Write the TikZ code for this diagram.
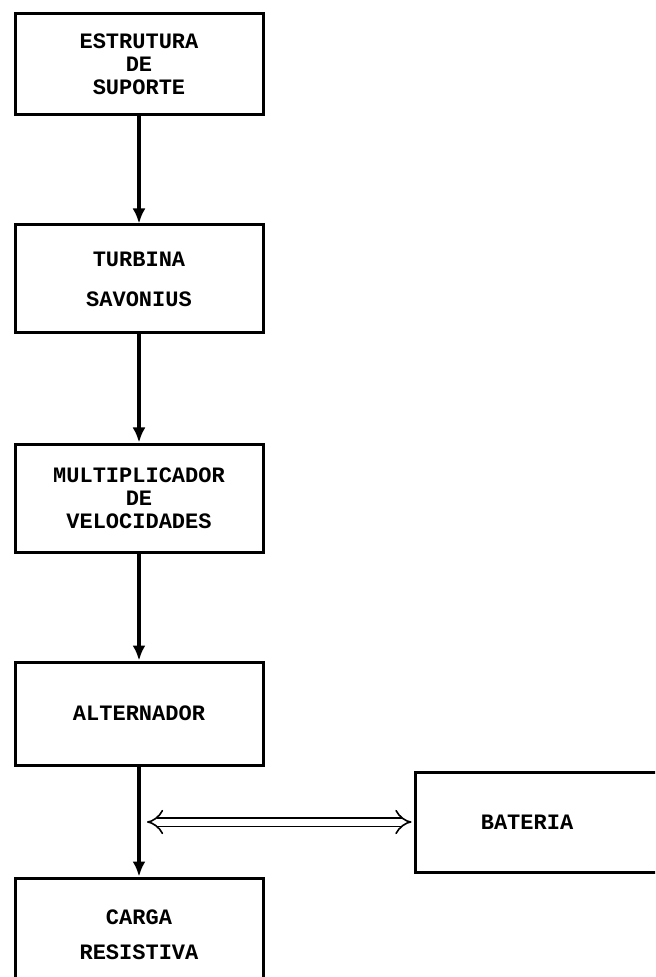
\documentclass[tikz,border=0pt]{standalone}
\usepackage{fontspec}
\setmonofont{Liberation Mono}
\usepackage{tikz}
\usetikzlibrary{arrows.meta}

\begin{document}
\begin{tikzpicture}[x=0.5pt,y=-0.5pt,>=Latex,
  blk/.style={draw,line width=1.5pt,minimum width=124pt,inner sep=0pt,align=center,
    font=\ttfamily\bfseries\fontsize{11}{13}\selectfont},
  flow/.style={line width=2pt,-{Latex[length=7.5pt,width=6.5pt]}},
  dbl/.style={{Implies}-{Implies},double,double distance=3.5pt,line width=0.8pt}]
  \clip (0,0) rectangle (655,977);
  \node[blk,minimum height=50.5pt] (sup) at (139,64) {ESTRUTURA\\[-1.5pt]DE\\[-1.5pt]SUPORTE};
  \node[blk,minimum height=54pt] (turb) at (139,279) {TURBINA\\[7pt]SAVONIUS};
  \node[blk,minimum height=54pt] (mult) at (139,498) {MULTIPLICADOR\\[-1.5pt]DE\\[-1.5pt]VELOCIDADES};
  \node[blk,minimum height=51.5pt] (alt) at (139,713.5) {ALTERNADOR};
  \node[blk,minimum height=57pt] (carga) at (139,935) {CARGA\\[4.5pt]RESISTIVA};
  \node[blk,minimum width=125pt,minimum height=50pt] (bat) at (540,822) {BATERIA\hspace*{13pt}};

  \draw[flow] (sup) -- (turb);
  \draw[flow] (turb) -- (mult);
  \draw[flow] (mult) -- (alt);
  \draw[flow] (alt) -- (carga);
  \coordinate (tap) at (alt.south |- bat.west);
  \draw[dbl,shorten <=4pt,shorten >=1pt] (tap) -- (bat.west);
\end{tikzpicture}
\end{document}
